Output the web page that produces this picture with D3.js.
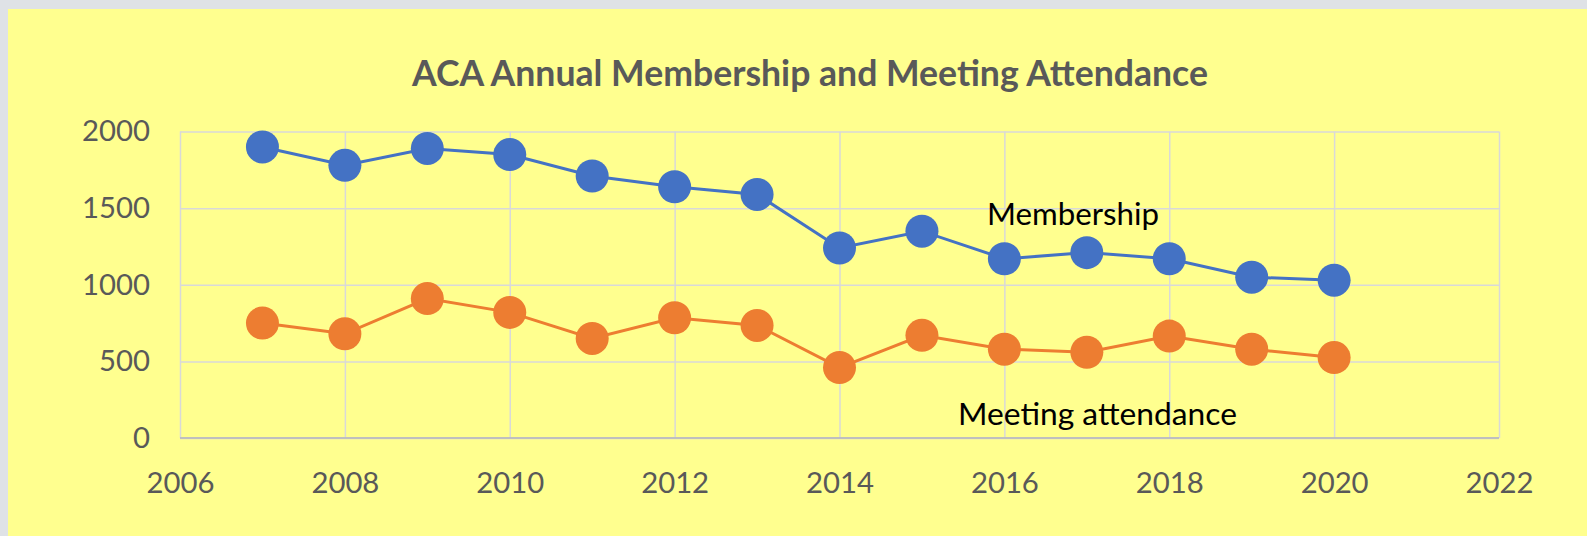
<!DOCTYPE html>
<html>
<head>
<meta charset="utf-8">
<script src="https://cdn.jsdelivr.net/npm/d3@7"></script>
<style>
body { margin: 0; background: #dfe2e6; }
svg { display: block; }
</style>
</head>
<body>
<svg id="chart" width="1587" height="536"></svg>
<script>
// values
var years = [2007, 2008, 2009, 2010, 2011, 2012, 2013, 2014, 2015, 2016, 2017, 2018, 2019, 2020];
var membership = [1900, 1780, 1890, 1850, 1710, 1640, 1590, 1240, 1350, 1170, 1210, 1170, 1050, 1030];
var attendance = [750, 680, 910, 820, 650, 785, 735, 460, 670, 580, 560, 665, 580, 525];
var xTicks = [2006, 2008, 2010, 2012, 2014, 2016, 2018, 2020, 2022];
var yTicks = [0, 500, 1000, 1500, 2000];
var seriesNames = ["Membership", "Meeting attendance"];

var W = 1587, H = 536;
// plot box (window.top is read-only, so keep these in an object)
var plot = { left: 180, right: 1499, top: 131.6, bottom: 438 };
var fontFam = "Lato, 'Open Sans', sans-serif";

var svg = d3.select("#chart");

// yellow panel, gray strip top/left
svg.append("rect")
    .attr("x", 8).attr("y", 9)
    .attr("width", W - 8).attr("height", H - 9)
    .attr("fill", "#ffff8f");

var x = d3.scaleLinear().domain([2006, 2022]).range([plot.left, plot.right]);
var y = d3.scaleLinear().domain([0, 2000]).range([plot.bottom, plot.top]);

// scale font so text spans the wanted width
function fitText(sel, width) {
    var w = sel.node().getComputedTextLength();
    var fs = parseFloat(sel.attr("font-size"));
    sel.attr("font-size", fs * width / w);
    return fs * width / w;
}

// tick font size from the "2000" label width
var probe = svg.append("text").attr("font-family", fontFam).attr("font-size", 30).text("2000");
var tickSize = fitText(probe, 68);
probe.remove();

// gridlines
var yAxis = svg.append("g")
    .attr("transform", "translate(" + plot.left + ",0)")
    .call(d3.axisLeft(y).tickValues(yTicks).tickSize(-(plot.right - plot.left)).tickPadding(30).tickFormat(d3.format("d")));
var xAxis = svg.append("g")
    .attr("transform", "translate(0," + plot.bottom + ")")
    .call(d3.axisBottom(x).tickValues(xTicks).tickSize(-(plot.bottom - plot.top)).tickPadding(34).tickFormat(d3.format("d")));

[yAxis, xAxis].forEach(function(ax) {
    ax.select(".domain").remove();
    ax.selectAll(".tick line").attr("stroke", "#d9d9d9").attr("stroke-width", 1.5);
    ax.selectAll(".tick text")
        .attr("fill", "#595959")
        .attr("font-family", fontFam)
        .attr("font-size", tickSize);
});
// bottom axis line a bit darker
svg.append("line")
    .attr("x1", plot.left).attr("x2", plot.right)
    .attr("y1", y(0)).attr("y2", y(0))
    .attr("stroke", "#bfbfbf").attr("stroke-width", 2);

// series
var colors = ["#4472c4", "#ed7d31"];
[membership, attendance].forEach(function(vals, i) {
    var pts = years.map(function(yr, k) { return [yr, vals[k]]; });
    svg.append("path")
        .datum(pts)
        .attr("fill", "none")
        .attr("stroke", colors[i])
        .attr("stroke-width", 3)
        .attr("d", d3.line().x(function(d) { return x(d[0]); }).y(function(d) { return y(d[1]); }));
    svg.selectAll(null)
        .data(pts)
        .enter().append("circle")
        .attr("cx", function(d) { return x(d[0]); })
        .attr("cy", function(d) { return y(d[1]); })
        .attr("r", 16.5)
        .attr("fill", colors[i]);
});

// title
var title = svg.append("text")
    .attr("x", 810).attr("y", 86)
    .attr("text-anchor", "middle")
    .attr("font-family", fontFam)
    .attr("font-weight", "bold")
    .attr("font-size", 30)
    .attr("fill", "#595959")
    .text("ACA Annual Membership and Meeting Attendance");
fitText(title, 796);

// series labels
var lab1 = svg.append("text")
    .attr("x", 987).attr("y", 225)
    .attr("font-family", fontFam).attr("font-size", 30)
    .attr("fill", "#000")
    .text(seriesNames[0]);
fitText(lab1, 172);
var lab2 = svg.append("text")
    .attr("x", 958).attr("y", 425)
    .attr("font-family", fontFam).attr("font-size", 30)
    .attr("fill", "#000")
    .text(seriesNames[1]);
fitText(lab2, 279);
</script>
</body>
</html>
